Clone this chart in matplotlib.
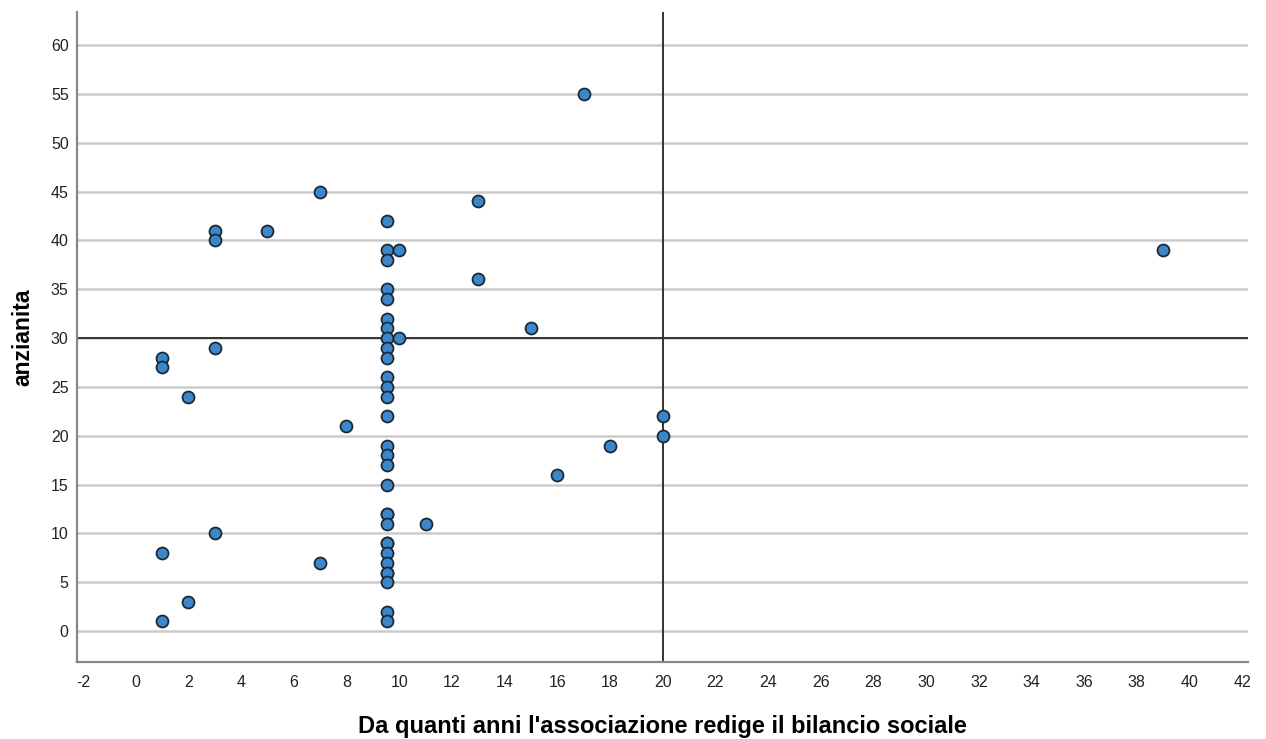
import matplotlib
matplotlib.use("Agg")
import matplotlib.pyplot as plt
import numpy as np

plt.rcParams['font.family'] = ['Liberation Sans', 'DejaVu Sans']

# Data: x = years association writes social report, y = anzianita
xm = 9.54  # imputed (mean) value column
x_vals = [xm]*30 + [10, 10] + [1, 1, 2, 3, 3, 3, 5, 7, 13, 13, 15, 17, 8, 20, 20, 18, 16, 11, 3, 1, 7, 2, 1, 39]
y_vals = [42, 39, 38, 35, 34, 32, 31, 30, 29, 28, 26, 25, 24, 22, 19, 18, 17, 15,
          12, 12, 11, 9, 9, 8, 7, 6, 6, 5, 2, 1] + [39, 30] + \
         [28, 27, 24, 29, 41, 40, 41, 45, 44, 36, 31, 55, 21, 22, 20, 19, 16, 11, 10, 8, 7, 3, 1, 39]

x_ticks = list(range(-2, 43, 2))
y_ticks = list(range(0, 61, 5))
ref_x = 20
ref_y = 30

fig = plt.figure(figsize=(12.66, 7.39), dpi=100)
ax = fig.add_axes([0.0608, 0.104, 0.9250, 0.880])

ax.set_xlim(-2.23, 42.22)
ax.set_ylim(-3.17, 63.4)
ax.set_xticks(x_ticks)
ax.set_yticks(y_ticks)
ax.set_xticklabels([str(t) for t in x_ticks], fontsize=11.5, color='#222222')
ax.set_yticklabels([str(t) for t in y_ticks], fontsize=11.5, color='#222222')
ax.tick_params(axis='x', length=0, pad=9)
ax.tick_params(axis='y', length=0, pad=6)

for t in y_ticks:
    ax.axhline(t, color='#cccccc', lw=1.8, zorder=1)

ax.axhline(ref_y, color='#333333', lw=1.4, zorder=2)
ax.axvline(ref_x, color='#333333', lw=1.4, zorder=2)

ax.scatter(x_vals, y_vals, s=74, facecolor='#3c87c9', edgecolor='#1b2a38',
           linewidths=1.3, zorder=3)

for side in ['top', 'right']:
    ax.spines[side].set_visible(False)
for side in ['left', 'bottom']:
    ax.spines[side].set_color('#888888')
    ax.spines[side].set_linewidth(1.6)

ax.set_xlabel("Da quanti anni l'associazione redige il bilancio sociale",
              fontsize=17, fontweight='bold', labelpad=18)
ax.set_ylabel("anzianita", fontsize=16.5, fontweight='bold', labelpad=12)

fig.savefig('out.png', dpi=100)
